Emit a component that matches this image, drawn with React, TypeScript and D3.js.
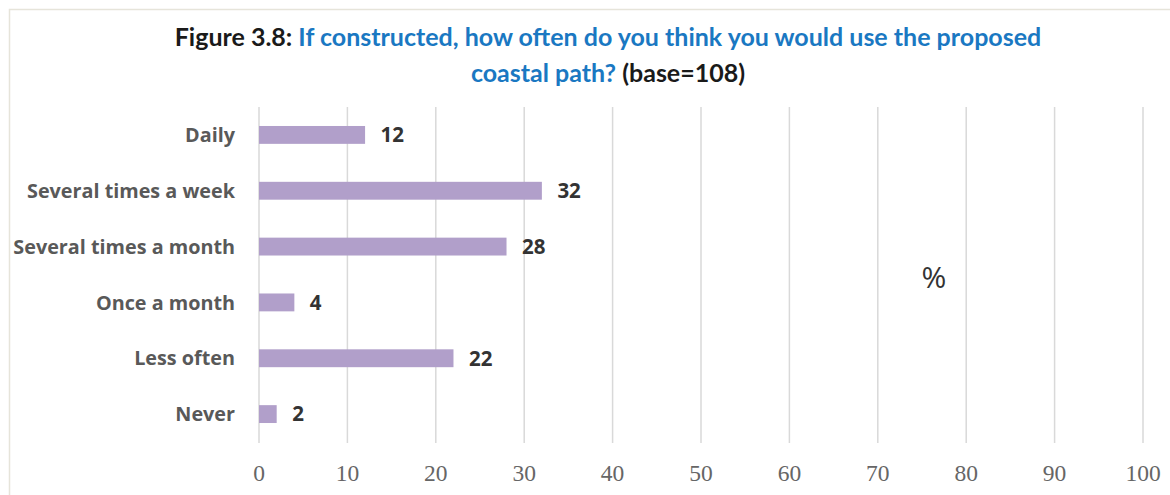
import React from "react";
import * as d3 from "d3";

const categories = ["Daily", "Several times a week", "Several times a month", "Once a month", "Less often", "Never"];
const values = [12, 32, 28, 4, 22, 2];
const ticks = [0, 10, 20, 30, 40, 50, 60, 70, 80, 90, 100];

const W = 1170;
const H = 495;

export default function App() {
  const x = d3.scaleLinear().domain([0, 100]).range([259, 1143]);
  const y = d3.scaleBand().domain(categories).range([107, 442]).paddingInner(0.68).paddingOuter(0.34);
  const title = "Lato, 'Open Sans', sans-serif";
  const sans = "'Open Sans', Lato, sans-serif";
  return (
    <svg width={W} height={H} style={{ position: "absolute", left: 0, top: 0, background: "#fff" }}>
      <rect x={9.5} y={9.5} width={W + 10} height={H + 10} fill="#fff" stroke="#e6e4da" strokeWidth={1.5} />
      <text x={608} y={46} textAnchor="middle" fontFamily={title} fontWeight={700} fontSize={25}>
        <tspan fill="#1a1a1a">Figure 3.8: </tspan>
        <tspan fill="#1a78c2">If constructed, how often do you think you would use the proposed</tspan>
      </text>
      <text x={608} y={82} textAnchor="middle" fontFamily={title} fontWeight={700} fontSize={25}>
        <tspan fill="#1a78c2">coastal path? </tspan>
        <tspan fill="#1a1a1a">(base=108)</tspan>
      </text>
      {ticks.map((t) => (
        <g key={t}>
          <line x1={x(t)} x2={x(t)} y1={107} y2={443} stroke="#d9d9d9" strokeWidth={1.5} />
          <text x={x(t)} y={481} textAnchor="middle" fontFamily="'Liberation Serif', 'DejaVu Serif', serif" fontSize={23.5} fill="#666">
            {t}
          </text>
        </g>
      ))}
      {categories.map((c, i) => {
        const yc = (y(c) as number) + y.bandwidth() / 2;
        return (
          <g key={c}>
            <rect x={x(0)} y={y(c)} width={x(values[i]) - x(0)} height={y.bandwidth()} fill="#b19fca" />
            <text x={235} y={yc} dy="0.36em" textAnchor="end" fontFamily={sans} fontWeight={700} fontSize={19.8} fill="#595959">
              {c}
            </text>
            <text x={x(values[i]) + 15.5} y={yc} dy="0.36em" textAnchor="start" fontFamily={sans} fontWeight={700} fontSize={20.5} fill="#333">
              {values[i]}
            </text>
          </g>
        );
      })}
      <text x={934} y={277} textAnchor="middle" dy="0.36em" fontFamily="'Open Sans', sans-serif" fontSize={30} fill="#333">
        %
      </text>
    </svg>
  );
}
